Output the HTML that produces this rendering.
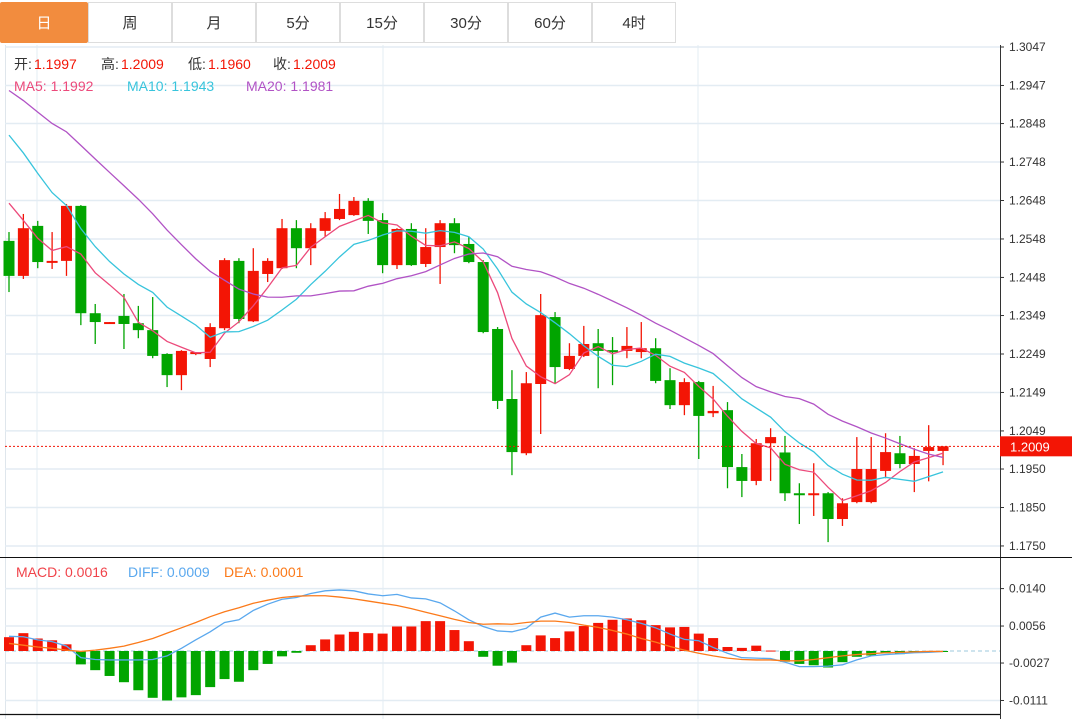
<!DOCTYPE html>
<html><head><meta charset="utf-8">
<style>
body{margin:0;background:#fff;font-family:"Liberation Sans","Noto Sans CJK SC",sans-serif;}
#wrap{position:relative;width:1072px;height:719px;overflow:hidden;}
.tab{position:absolute;top:2px;height:41px;width:84px;border:1px solid #ddd;box-sizing:border-box;text-align:center;line-height:41px;font-size:15px;color:#333;background:#fff;}
.tab.on{background:#f28c3e;color:#fff;border-color:#f28c3e;border-radius:2px;}
</style></head><body>
<div id="wrap">
<div class="tab on" style="left:0;width:88px">日</div>
<div class="tab" style="left:88px">周</div>
<div class="tab" style="left:172px">月</div>
<div class="tab" style="left:256px">5分</div>
<div class="tab" style="left:340px">15分</div>
<div class="tab" style="left:424px">30分</div>
<div class="tab" style="left:508px">60分</div>
<div class="tab" style="left:592px">4时</div>
<svg id="svg" width="1072" height="719" style="position:absolute;left:0;top:0"></svg>
</div>
<script>
const opens=[1.2543,1.2452,1.2582,1.2488,1.2491,1.2634,1.2355,1.2329,1.2348,1.2329,1.2311,1.2249,1.2194,1.2249,1.2236,1.2316,1.2491,1.2334,1.2457,1.2472,1.2576,1.2524,1.2569,1.2600,1.2610,1.2647,1.2597,1.2480,1.2574,1.2483,1.2527,1.2589,1.2535,1.2488,1.2314,1.2132,1.1991,1.2171,1.2345,1.2210,1.2244,1.2277,1.2259,1.2257,1.2254,1.2264,1.2181,1.2116,1.2176,1.2095,1.2103,1.1955,1.1919,1.2017,1.1993,1.1887,1.1885,1.1887,1.1820,1.1864,1.1864,1.1945,1.1991,1.1963,1.1997,1.1997];
const highs=[1.2566,1.2613,1.2595,1.2566,1.2639,1.2636,1.2379,1.2332,1.2405,1.2374,1.2397,1.2251,1.2259,1.2254,1.2329,1.2498,1.2498,1.2524,1.2498,1.2600,1.2597,1.2589,1.2618,1.2665,1.2657,1.2654,1.2615,1.2576,1.2589,1.2576,1.2597,1.2602,1.2553,1.2493,1.2319,1.2207,1.2202,1.2405,1.2358,1.2277,1.2322,1.2314,1.2293,1.2319,1.2332,1.2290,1.2212,1.2186,1.2179,1.2166,1.2124,1.1989,1.2028,1.2056,1.2036,1.1913,1.1965,1.1890,1.1874,1.2033,1.2033,1.2043,1.2036,1.2004,1.2064,1.2009];
const lows=[1.2410,1.2444,1.2472,1.2470,1.2452,1.2324,1.2275,1.2329,1.2262,1.2290,1.2238,1.2163,1.2155,1.2246,1.2215,1.2311,1.2329,1.2332,1.2436,1.2470,1.2472,1.2480,1.2553,1.2597,1.2608,1.2561,1.2459,1.2470,1.2478,1.2475,1.2431,1.2511,1.2485,1.2303,1.2106,1.1934,1.1986,1.2041,1.2173,1.2207,1.2241,1.2160,1.2168,1.2238,1.2238,1.2173,1.2106,1.2090,1.1976,1.2085,1.1900,1.1877,1.1908,1.1919,1.1867,1.1807,1.1828,1.1760,1.1802,1.1861,1.1861,1.1926,1.1952,1.1890,1.1918,1.1960];
const closes=[1.2452,1.2576,1.2488,1.2491,1.2634,1.2355,1.2332,1.2332,1.2327,1.2311,1.2244,1.2194,1.2257,1.2254,1.2319,1.2493,1.2340,1.2465,1.2491,1.2576,1.2524,1.2576,1.2602,1.2626,1.2647,1.2595,1.2480,1.2574,1.2480,1.2527,1.2589,1.2532,1.2488,1.2306,1.2127,1.1994,1.2173,1.2350,1.2215,1.2244,1.2275,1.2257,1.2257,1.2270,1.2264,1.2179,1.2116,1.2176,1.2088,1.2101,1.1955,1.1919,1.2017,1.2033,1.1887,1.1885,1.1887,1.1820,1.1861,1.1950,1.1950,1.1994,1.1963,1.1984,1.2007,1.2009];
const prevCloses=[1.3100,1.3090,1.3080,1.3070,1.3060,1.3040,1.3030,1.3020,1.3010,1.3000,1.3040,1.3020,1.2990,1.2970,1.2955,1.2800,1.2720,1.2650,1.2583];
const macdBars=[0.0031,0.0040,0.0028,0.0024,0.0015,-0.0030,-0.0043,-0.0056,-0.0070,-0.0088,-0.0105,-0.0111,-0.0104,-0.0099,-0.0081,-0.0063,-0.0069,-0.0043,-0.0029,-0.0012,-0.0004,0.0013,0.0026,0.0037,0.0043,0.0040,0.0039,0.0055,0.0055,0.0067,0.0067,0.0047,0.0022,-0.0013,-0.0033,-0.0026,0.0013,0.0035,0.0029,0.0044,0.0056,0.0063,0.0070,0.0073,0.0069,0.0058,0.0053,0.0054,0.0039,0.0029,0.0009,0.0007,0.0012,0.0001,-0.0024,-0.0029,-0.0032,-0.0037,-0.0025,-0.0013,-0.0010,-0.0005,-0.0007,-0.0004,-0.0002,-0.0001];
const diffVals=[0.0033,0.0032,0.0025,0.0021,0.0011,-0.0015,-0.0019,-0.0020,-0.0020,-0.0020,-0.0019,-0.0011,0.0006,0.0025,0.0043,0.0064,0.0070,0.0091,0.0105,0.0116,0.0120,0.0129,0.0135,0.0137,0.0135,0.0128,0.0124,0.0127,0.0119,0.0117,0.0108,0.0090,0.0070,0.0055,0.0045,0.0043,0.0051,0.0076,0.0085,0.0076,0.0079,0.0079,0.0076,0.0070,0.0062,0.0052,0.0038,0.0026,0.0023,0.0008,-0.0005,-0.0015,-0.0016,-0.0017,-0.0025,-0.0035,-0.0035,-0.0034,-0.0031,-0.0020,-0.0011,-0.0008,-0.0006,-0.0004,-0.0003,-0.0001];
const deaVals=[0.0017,0.0013,0.0009,0.0006,0.0002,-0.0001,0.0002,0.0006,0.0011,0.0019,0.0028,0.0040,0.0052,0.0064,0.0077,0.0088,0.0097,0.0107,0.0114,0.0120,0.0123,0.0124,0.0124,0.0121,0.0117,0.0112,0.0107,0.0102,0.0095,0.0087,0.0079,0.0071,0.0064,0.0060,0.0061,0.0060,0.0064,0.0067,0.0067,0.0064,0.0058,0.0053,0.0046,0.0038,0.0028,0.0020,0.0010,0.0002,-0.0005,-0.0011,-0.0016,-0.0019,-0.0020,-0.0020,-0.0022,-0.0022,-0.0019,-0.0015,-0.0011,-0.0008,-0.0006,-0.0004,-0.0003,-0.0002,-0.0001,-0.0001];
const priceTicks=[1.3047,1.2947,1.2848,1.2748,1.2648,1.2548,1.2448,1.2349,1.2249,1.2149,1.2049,1.1950,1.1850,1.1750];
const macdTicks=[0.0140,0.0056,-0.0027,-0.0111];
const lastPrice=1.2009;

const svg=document.getElementById('svg');
const NS='http://www.w3.org/2000/svg';
function mk(tag,attrs,parent){const e=document.createElementNS(NS,tag);for(const k in attrs)e.setAttribute(k,attrs[k]);(parent||svg).appendChild(e);return e;}
const yP=p=>47+(1.3047-p)*3847;
const yM=v=>651-v*4458;
const xI=i=>9+i*14.37;
const RED='#f31505',GREEN='#01a500';

let g=mk('g',{});
[37,383,698].forEach(x=>{mk('line',{x1:x,y1:45,x2:x,y2:719,stroke:'#e3ecf3','stroke-width':1},g);});
mk('line',{x1:5.5,y1:45,x2:5.5,y2:719,stroke:'#dfe6ec'},g);
priceTicks.forEach(t=>{const y=yP(t);mk('line',{x1:5,y1:y,x2:1000,y2:y,stroke:'#e3ecf3','stroke-width':1.5},g);
 mk('line',{x1:1000,y1:y,x2:1004,y2:y,stroke:'#333'});
 const tx=mk('text',{x:1009,y:y+4,'font-size':12,fill:'#333'});tx.textContent=t.toFixed(4);
 });
mk('line',{x1:1000.5,y1:45,x2:1000.5,y2:719,stroke:'#333'});
mk('line',{x1:0,y1:557.5,x2:1072,y2:557.5,stroke:'#111','stroke-width':1});
mk('line',{x1:0,y1:714.5,x2:1000,y2:714.5,stroke:'#111','stroke-width':1.2});
macdTicks.forEach(t=>{const y=yM(t);mk('line',{x1:5,y1:y,x2:1000,y2:y,stroke:'#e3ecf3','stroke-width':1.5});
 mk('line',{x1:1000,y1:y,x2:1004,y2:y,stroke:'#333'});
 const tx=mk('text',{x:1009,y:y+4,'font-size':12,fill:'#333'});tx.textContent=t.toFixed(4);
 });

closes.forEach((c,i)=>{const o=opens[i],x=xI(i),col=c>=o?RED:GREEN;
 const cg=mk('g',{});
 
 
 mk('line',{x1:x,y1:yP(highs[i]),x2:x,y2:yP(lows[i]),stroke:col,'stroke-width':1.3},cg);
 const top=yP(Math.max(o,c)),bot=yP(Math.min(o,c));
 mk('rect',{x:x-5.5,y:top,width:11,height:Math.max(2,bot-top),fill:col},cg);
});
const all=prevCloses.concat(closes);
function ma(n){return closes.map((_,i)=>{const j=i+prevCloses.length;let s=0;for(let k=j-n+1;k<=j;k++)s+=all[k];return s/n;});}
[[5,'#ec4a7b','ma5-line'],[10,'#38c4dc','ma10-line'],[20,'#b153c5','ma20-line']].forEach(([n,col,name])=>{
 const v=ma(n);const pts=v.map((p,i)=>xI(i)+','+yP(p)).join(' ');
 const pl=mk('polyline',{points:pts,fill:'none',stroke:col,'stroke-width':1.3});
 
 
});
const ly=yP(lastPrice);
mk('line',{x1:5,y1:ly,x2:1000,y2:ly,stroke:RED,'stroke-dasharray':'2,2','stroke-width':1});
const lb=mk('rect',{x:1000,y:ly-10,width:72,height:20,fill:RED});

const lt=mk('text',{x:1010,y:ly+5,'font-size':13,fill:'#fff'});lt.textContent=lastPrice.toFixed(4);

mk('line',{x1:5,y1:yM(0),x2:1000,y2:yM(0),stroke:'#9cc9de','stroke-dasharray':'4,3'});
macdBars.forEach((v,i)=>{const x=xI(i),y0=yM(0),y1=yM(v);
 const r=mk('rect',{x:x-5,y:Math.min(y0,y1),width:10,height:Math.max(1,Math.abs(y1-y0)),fill:v>=0?RED:GREEN});
 
 
});
[[diffVals,'#5aa8ee','diff-line'],[deaVals,'#fb7a1a','dea-line']].forEach(([arr,col,name])=>{
 const pl=mk('polyline',{points:arr.map((v,i)=>xI(i)+','+yM(v)).join(' '),fill:'none',stroke:col,'stroke-width':1.3});
 
 
});

function txt(x,y,s,col,size,name){const t=mk('text',{x:x,y:y,'font-size':size||14,fill:col});t.textContent=s;return t;}
txt(14,69,'开:','#333',14,'open-label');txt(34,69,'1.1997',RED,14,'open-value');
txt(101,69,'高:','#333',14,'high-label');txt(121,69,'1.2009',RED,14,'high-value');
txt(188,69,'低:','#333',14,'low-label');txt(208,69,'1.1960',RED,14,'low-value');
txt(273,69,'收:','#333',14,'close-label');txt(293,69,'1.2009',RED,14,'close-value');
txt(14,91,'MA5: 1.1992','#ec4a7b',14,'ma5-legend');
txt(127,91,'MA10: 1.1943','#38c4dc',14,'ma10-legend');
txt(246,91,'MA20: 1.1981','#b153c5',14,'ma20-legend');
txt(16,577,'MACD: 0.0016','#f0434a',14,'macd-legend');
txt(128,577,'DIFF: 0.0009','#5aa8ee',14,'diff-legend');
txt(224,577,'DEA: 0.0001','#fb7a1a',14,'dea-legend');
</script>
</body></html>
